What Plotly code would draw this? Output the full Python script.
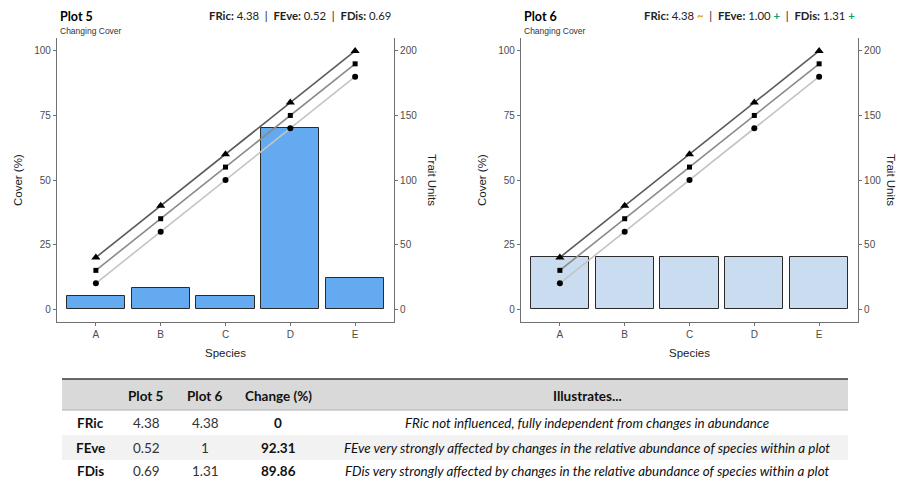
import plotly.graph_objects as go

# ---------------- data ----------------
species = ["A", "B", "C", "D", "E"]
cover_plot5 = [5, 8, 5, 70, 12]
cover_plot6 = [20, 20, 20, 20, 20]
trait_circle = [20, 60, 100, 140, 180]
trait_square = [30, 70, 110, 150, 190]
trait_triangle = [40, 80, 120, 160, 200]

plot_titles = ["Plot 5", "Plot 6"]
plot_subtitles = ["Changing Cover", "Changing Cover"]
metric_names = ["FRic", "FEve", "FDis"]
metrics_plot5 = ["4.38", "0.52", "0.69"]
metrics_plot6 = ["4.38", "1.00", "1.31"]
metric_flags6 = ["~", "+", "+"]

table_header = ["", "Plot 5", "Plot 6", "Change (%)", "Illustrates..."]
table_metric = ["FRic", "FEve", "FDis"]
table_plot5 = ["4.38", "0.52", "0.69"]
table_plot6 = ["4.38", "1", "1.31"]
table_change = ["0", "92.31", "89.86"]
table_text = [
    "FRic not influenced, fully independent from changes in abundance",
    "FEve very strongly affected by changes in the relative abundance of species within a plot",
    "FDis very strongly affected by changes in the relative abundance of species within a plot",
]

# page body has an 8px margin; figure fills the rest of the 904x482 window
OFF = 8
W, H = 904 - OFF, 482 - OFF
def px(x): return (x - OFF) / W
def py(y): return 1 - (y - OFF) / H

bar_colors = ["#64AAF0", "#C9DCF0"]
flag_colors = {"~": "#E69F00", "+": "#00A36C"}
TICKFONT = dict(family="Liberation Sans, Arial", size=10, color="#4d4d4d")
TITLEFONT = "Lato, Liberation Sans"

fig = go.Figure()

panels = [
    dict(x0=57, x1=394, xa="x", ya="y", ya2="y2", cover=cover_plot5, col=bar_colors[0]),
    dict(x0=521, x1=858, xa="x2", ya="y3", ya2="y4", cover=cover_plot6, col=bar_colors[1]),
]
top, bottom = 38, 322

for i, p in enumerate(panels):
    fig.add_trace(go.Bar(x=species, y=p["cover"], width=0.9, xaxis=p["xa"], yaxis=p["ya"],
                         marker=dict(color=p["col"], line=dict(color="#2b2b2b", width=1)),
                         showlegend=False, hoverinfo="skip"))
    for vals, lc, sym, ms in [(trait_circle, "#c4c4c4", "circle", 6),
                              (trait_square, "#8a8a8a", "square", 5),
                              (trait_triangle, "#5a5a5a", "triangle-up", 8)]:
        fig.add_trace(go.Scatter(x=species, y=vals, mode="lines+markers", xaxis=p["xa"], yaxis=p["ya2"],
                                 line=dict(color=lc, width=1.6),
                                 marker=dict(symbol=sym, size=ms, color="black"),
                                 showlegend=False, hoverinfo="skip"))

axis_common = dict(showline=True, linecolor="#707070", linewidth=1.2, ticks="outside",
                   ticklen=3, tickcolor="#707070", tickfont=TICKFONT, showgrid=False,
                   zeroline=False, fixedrange=True)

layout = dict(
    width=W, height=H, margin=dict(l=0, r=0, t=0, b=0),
    paper_bgcolor="white", plot_bgcolor="white", bargap=0, showlegend=False,
)
for i, p in enumerate(panels):
    xname = "xaxis" if i == 0 else "xaxis2"
    yname = "yaxis" if i == 0 else "yaxis3"
    y2name = "yaxis2" if i == 0 else "yaxis4"
    layout[xname] = dict(domain=[px(p["x0"]), px(p["x1"])], anchor=p["ya"], range=[-0.6, 4.6],
                         type="category", **axis_common)
    layout[yname] = dict(domain=[py(bottom), py(top)], anchor=p["xa"], range=[-5, 105],
                         tickvals=[0, 25, 50, 75, 100], **axis_common)
    layout[y2name] = dict(domain=[py(bottom), py(top)], anchor=p["xa"], overlaying=p["ya"],
                          side="right", range=[-10, 210], tickvals=[0, 50, 100, 150, 200], **axis_common)
fig.update_layout(**layout)

ann = []
def A(x, y, text, size, family=TITLEFONT, color="#222", xanchor="center", angle=0):
    ann.append(dict(x=px(x), y=py(y), xref="paper", yref="paper", text=text, showarrow=False,
                    xanchor=xanchor, yanchor="middle", textangle=angle,
                    font=dict(family=family, size=size, color=color)))

for i, p in enumerate(panels):
    cx = (p["x0"] + p["x1"]) / 2
    A(p["x0"] + 1, 17, "<b>%s</b>" % plot_titles[i], 12.5, color="black", xanchor="left")
    A(p["x0"] + 1, 30.5, plot_subtitles[i], 8.5, family="Liberation Sans", color="#333", xanchor="left")
    if i == 0:
        parts = ["<b>%s:</b> %s" % (n, v) for n, v in zip(metric_names, metrics_plot5)]
    else:
        parts = ["<b>%s:</b> %s <span style='color:%s'><b>%s</b></span>" % (n, v, flag_colors[f], f)
                 for n, v, f in zip(metric_names, metrics_plot6, metric_flags6)]
    A(p["x1"] - 1, 15.5, "  |  ".join(parts), 11.3, color="#222", xanchor="right")
    A(p["x0"] - 39, 180, "Cover (%)", 11.5, family="Liberation Sans", angle=-90)
    A(p["x1"] + (38 if i == 0 else 33), 180, "Trait Units", 11.5, family="Liberation Sans", angle=90)
    A(cx, 353, "Species", 11.5, family="Liberation Sans")

# ---------------- table (shapes + text) ----------------
tx0, tx1 = 62, 848
shapes = []
shapes.append(dict(type="rect", xref="paper", yref="paper", x0=px(tx0), x1=px(tx1), y0=py(410), y1=py(379),
                   fillcolor="#d9d9d9", line=dict(width=0), layer="below"))
shapes.append(dict(type="rect", xref="paper", yref="paper", x0=px(tx0), x1=px(tx1), y0=py(460), y1=py(435),
                   fillcolor="#f2f2f2", line=dict(width=0), layer="below"))
shapes.append(dict(type="line", xref="paper", yref="paper", x0=px(tx0), x1=px(tx1), y0=py(379), y1=py(379),
                   line=dict(color="#3a3a3a", width=1.6)))
shapes.append(dict(type="line", xref="paper", yref="paper", x0=px(tx0), x1=px(tx1), y0=py(410), y1=py(410),
                   line=dict(color="#b0b0b0", width=1)))
fig.update_layout(shapes=shapes)

col_x = [90, 146, 205, 278, 587]
header_y = 395.5
row_y = [423, 447.5, 470.5]
for cx, h in zip(col_x, table_header):
    if h:
        A(cx, header_y, "<b>%s</b>" % h, 13.5, color="#111")
for j in range(3):
    A(col_x[0], row_y[j], "<b>%s</b>" % table_metric[j], 13.5, color="#111")
    A(col_x[1], row_y[j], table_plot5[j], 13.5, color="#333")
    A(col_x[2], row_y[j], table_plot6[j], 13.5, color="#333")
    A(col_x[3], row_y[j], "<b>%s</b>" % table_change[j], 13.5, color="#111")
    A(col_x[4], row_y[j], "<i>%s</i>" % table_text[j], 13.4, color="#111")

fig.update_layout(annotations=ann)
fig.write_html("out.html")
